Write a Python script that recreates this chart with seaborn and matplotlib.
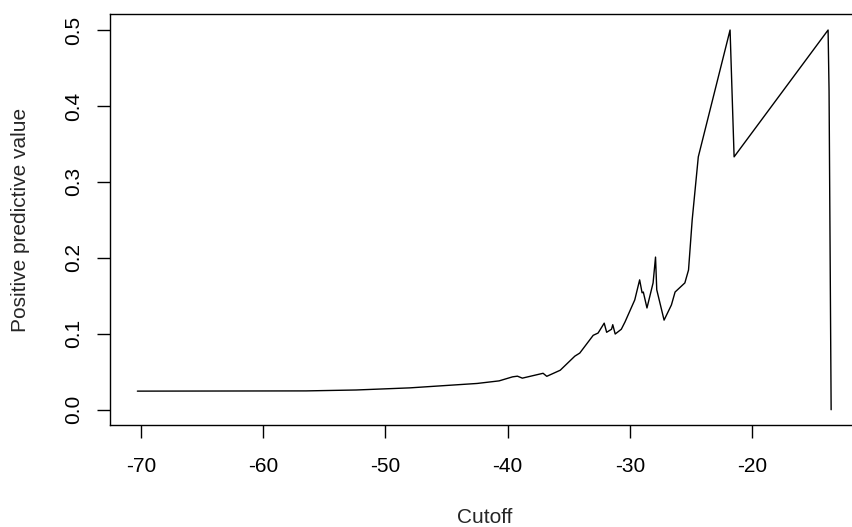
import numpy as np
import pandas as pd
import matplotlib
matplotlib.use("Agg")
import matplotlib.pyplot as plt
import seaborn as sns

# cutoff values and positive predictive value
cutoff = [-70.3, -56.5, -52.4, -48.0, -42.5, -40.7, -39.6, -39.2, -38.8, -37.1,
          -36.8, -35.7, -34.5, -34.1, -33.0, -32.6, -32.1, -31.9, -31.5, -31.4,
          -31.2, -30.7, -30.4, -29.6, -29.2, -29.0, -28.9, -28.6, -28.1, -27.9,
          -27.8, -27.2, -26.6, -26.3, -25.5, -25.2, -24.9, -24.4, -21.8, -21.47,
          -13.78, -13.7, -13.53]
ppv = [0.0245, 0.0248, 0.026, 0.0288, 0.0346, 0.038, 0.0433, 0.0442, 0.0416, 0.048,
       0.044, 0.052, 0.0706, 0.0746, 0.098, 0.101, 0.114, 0.102, 0.106, 0.112,
       0.0997, 0.106, 0.1155, 0.1446, 0.171, 0.154, 0.155, 0.134, 0.167, 0.201,
       0.158, 0.118, 0.138, 0.155, 0.167, 0.184, 0.250, 0.333, 0.5, 0.333,
       0.5, 0.42, 0.0]

x_ticks = [-70, -60, -50, -40, -30, -20]
y_ticks = [0.0, 0.1, 0.2, 0.3, 0.4, 0.5]

df = pd.DataFrame({"cutoff": cutoff, "ppv": ppv})

sns.set_style("white")
plt.rcParams["font.family"] = ["Liberation Sans", "DejaVu Sans"]

W, H = 852, 527
fig = plt.figure(figsize=(W / 100, H / 100), dpi=100)
# plot box runs past the right edge of the picture, as in the reference
ax = fig.add_axes([110 / W, (H - 425) / H, (859 - 110) / W, (425 - 14) / H])

sns.lineplot(data=df, x="cutoff", y="ppv", color="black", linewidth=1.0,
             sort=False, estimator=None, ax=ax)

ax.set_xlim(-72.54, -11.25)
ax.set_ylim(-0.0201, 0.5211)
ax.set_xticks(x_ticks)
ax.set_xticklabels([str(t) for t in x_ticks])
ax.set_yticks(y_ticks)
ax.set_yticklabels([f"{t:.1f}" for t in y_ticks], rotation=90, va="center")

for s in ax.spines.values():
    s.set_color("black")
    s.set_linewidth(1.0)

ax.tick_params(axis="both", direction="out", length=9.4, width=1.0,
               color="black", labelsize=15, labelcolor="black",
               bottom=True, left=True)
ax.tick_params(axis="x", pad=13.7)
ax.tick_params(axis="y", pad=10)

ax.set_xlabel("Cutoff", fontsize=15, va="baseline")
ax.xaxis.set_label_coords(484.5 / W, (H - 523) / H, transform=fig.transFigure)
ax.set_ylabel("Positive predictive value", fontsize=15, va="center")
ax.yaxis.set_label_coords(20.8 / W, (H - 220) / H, transform=fig.transFigure)

fig.savefig("out.png", dpi=100)
